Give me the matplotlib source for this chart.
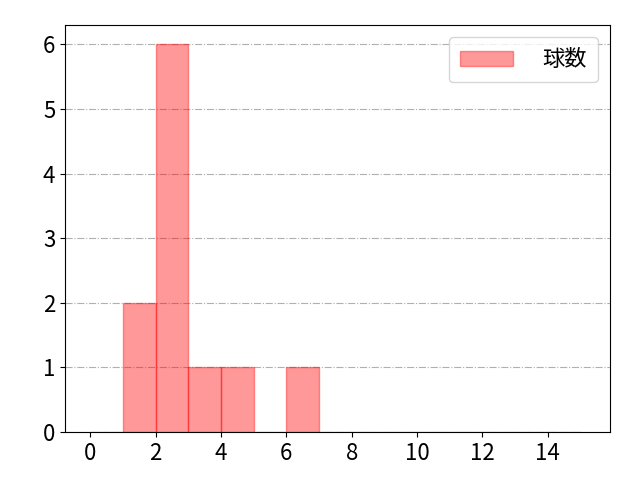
import numpy as np
import matplotlib
matplotlib.use('Agg')
import matplotlib.pyplot as plt

plt.rcParams['font.family'] = ['Noto Sans CJK JP', 'DejaVu Sans']

# histogram bins (left edges) and counts
BIN_EDGES = [0, 1, 2, 3, 4, 5, 6, 7, 8, 9, 10, 11, 12, 13, 14, 15]
BIN_LEFT = [1, 2, 3, 4, 6]
COUNTS = [2, 6, 1, 1, 1]
LABEL = '球数'

fig, ax = plt.subplots(figsize=(6.4, 4.8), dpi=100)
ax.hist(BIN_LEFT, bins=BIN_EDGES, weights=COUNTS, color='red', alpha=0.4,
        edgecolor='red', linewidth=1, label=LABEL)
ax.set_xlim(-0.77, 15.9)
ax.set_ylim(0, 6.3)
ax.set_xticks(np.arange(0, 15, 2))
ax.set_yticks(range(0, 7))
ax.tick_params(labelsize=16)
ax.grid(axis='y', linestyle='-.', color='#b0b0b0', linewidth=0.8)
ax.set_axisbelow(True)
ax.legend(loc='upper right', fontsize=16, borderpad=0.5, handlelength=2.4,
          handletextpad=1.3, borderaxespad=0.55)
plt.subplots_adjust(left=0.1016, right=0.953, top=0.948, bottom=0.1)
plt.savefig('out.png')
